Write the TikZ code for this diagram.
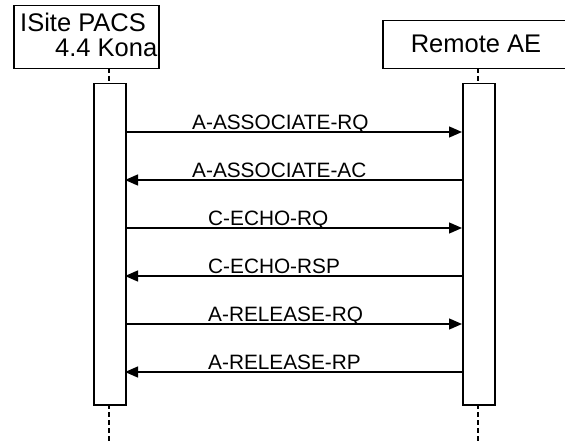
\documentclass[tikz,border=0pt]{standalone}
\usepackage{fontspec}
\setmainfont{Liberation Sans}
\usetikzlibrary{arrows.meta}
\begin{document}
\begin{tikzpicture}[x=1pt,y=-1pt,
  frame/.style={draw=black,line width=1.5pt,fill=white},
  life/.style={draw=black,line width=1.3pt,dash pattern=on 5pt off 3pt},
  msg/.style={draw=black,line width=1.3pt,-{Triangle[length=13pt,width=11pt]}},
  msglabel/.style={anchor=base west,inner sep=0pt,font=\fontsize{20.8pt}{22pt}\selectfont},
  hdr/.style={anchor=base west,inner sep=0pt,font=\fontsize{25.5pt}{27pt}\selectfont}]
\useasboundingbox (0,0) rectangle (565,441);
\fill[white] (0,0) rectangle (565,441);
% lifelines
\coordinate (lt) at (109,68);
\coordinate (lb) at (109,441);
\coordinate (rt) at (478,68);
\coordinate (rb) at (478,441);
\draw[life] (lt) -- (lb);
\draw[life] (rt) -- (rb);
% header boxes
\node[frame,minimum width=145pt,minimum height=63pt,anchor=north west,inner sep=0pt] (A) at (13,5) {};
\node[hdr] (At1) at (20,32) {ISite PACS};
\node[hdr] (At2) at (55,56.5) {4.4 Kona};
\node[frame,minimum width=190pt,minimum height=48pt,anchor=north west,inner sep=0pt] (B) at (382,20) {};
\node[hdr,anchor=base] (Bt) at (476,53) {Remote AE};
% activation boxes
\node[frame,minimum width=32pt,minimum height=321pt,anchor=north west,inner sep=0pt] (LA) at (93,83) {};
\node[frame,minimum width=32pt,minimum height=321pt,anchor=north west,inner sep=0pt] (RA) at (462,83) {};
% messages
\coordinate (l1) at (125,132); \coordinate (r1) at (462,132);
\coordinate (l2) at (125,180); \coordinate (r2) at (462,180);
\coordinate (l3) at (125,228); \coordinate (r3) at (462,228);
\coordinate (l4) at (125,276); \coordinate (r4) at (462,276);
\coordinate (l5) at (125,324); \coordinate (r5) at (462,324);
\coordinate (l6) at (125,372); \coordinate (r6) at (462,372);
\draw[msg] (l1) -- (r1);
\draw[msg] (r2) -- (l2);
\draw[msg] (l3) -- (r3);
\draw[msg] (r4) -- (l4);
\draw[msg] (l5) -- (r5);
\draw[msg] (r6) -- (l6);
\node[msglabel] (m1) at (192,129.5) {A-ASSOCIATE-RQ};
\node[msglabel] (m2) at (192,177.5) {A-ASSOCIATE-AC};
\node[msglabel] (m3) at (208,225.5) {C-ECHO-RQ};
\node[msglabel] (m4) at (208,273.5) {C-ECHO-RSP};
\node[msglabel] (m5) at (208,321.5) {A-RELEASE-RQ};
\node[msglabel] (m6) at (208,369.5) {A-RELEASE-RP};
\end{tikzpicture}
\end{document}
